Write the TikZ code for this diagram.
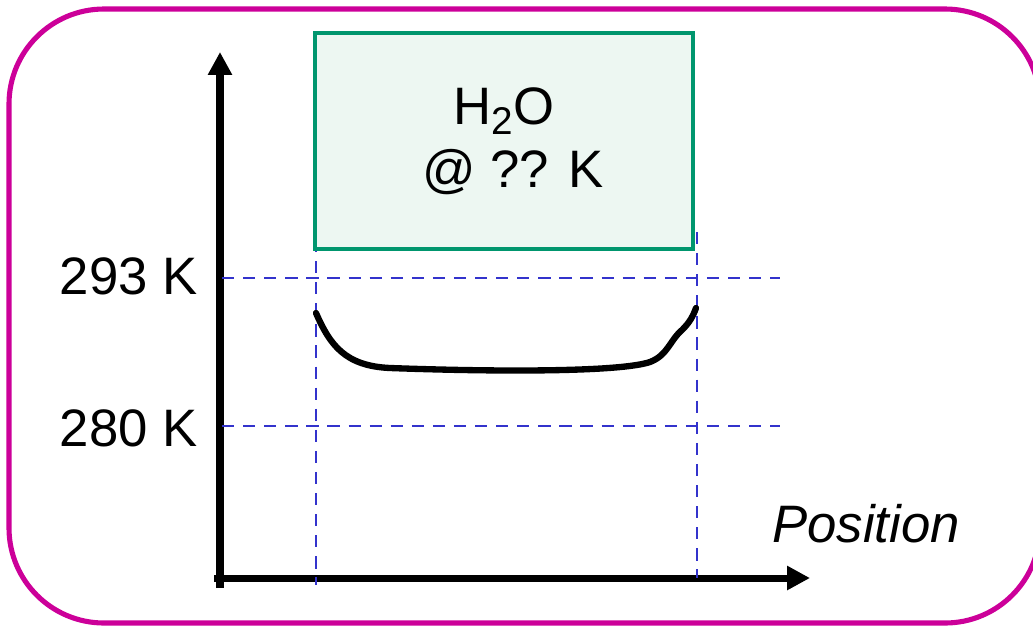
\documentclass[tikz,border=0pt]{standalone}
\usepackage{fontspec}
\setmainfont{Liberation Sans}
\usetikzlibrary{arrows.meta,positioning}
\definecolor{framepink}{RGB}{204,0,153}
\definecolor{boxgreen}{RGB}{0,150,110}
\definecolor{boxfill}{RGB}{237,247,242}
\definecolor{guideblue}{RGB}{51,51,204}

\begin{document}
\begin{tikzpicture}[x=0.02cm,y=-0.02cm,
      axis/.style={line width=4pt,-{Triangle[length=13pt,width=13pt]}},
      guide/.style={draw=guideblue,line width=1.5pt,dash pattern=on 7pt off 5pt},
      templabel/.style={font=\fontsize{30}{36}\selectfont,inner sep=0pt},
      water/.style={draw=boxgreen,fill=boxfill,line width=2.3pt,
                    minimum width=7.56cm,minimum height=4.32cm,align=center,
                    font=\fontsize{30}{36}\selectfont}]
    \useasboundingbox (0,0) rectangle (1033,626);
    \draw[framepink,line width=2.9pt,rounded corners=1.9cm] (9,9) rectangle (1040,623);
    % axes
    \coordinate (ybot) at (220,588);
    \coordinate (ytop) at (220,52);
    \coordinate (xbeg) at (214,578);
    \coordinate (xend) at (810,578);
    \draw[axis] (ybot) -- (ytop);
    \draw[axis] (xbeg) -- (xend);
    % guide lines
    \coordinate (hi1) at (222,278);  \coordinate (hi2) at (780,278);
    \coordinate (lo1) at (222,426);  \coordinate (lo2) at (780,426);
    \coordinate (vl1) at (316,240);  \coordinate (vl2) at (316,585);
    \coordinate (vr1) at (697,232);  \coordinate (vr2) at (697,578);
    \draw[guide] (hi1) -- (hi2);
    \draw[guide] (lo1) -- (lo2);
    \draw[guide] (vl1) -- (vl2);
    \draw[guide] (vr1) -- (vr2);
    % water box
    \node[water] (water) at (504,141) {H\raisebox{-6pt}{\fontsize{22}{26}\selectfont 2}O\\\hspace*{10pt}@ ?? K};
    \node[templabel,anchor=east] (t293) at (198,276) {293 K};
    \node[templabel,anchor=east] (t280) at (198,428) {280 K};
    \node[templabel,anchor=west,font=\fontsize{30}{36}\selectfont\itshape] (pos) at (772,524) {Position};
    % temperature profile
    \draw[line width=3.6pt,line cap=round]
      (316,313) .. controls (330,345) and (345,366) .. (390,368)
      .. controls (500,372) and (620,372) .. (650,362)
      .. controls (668,355) and (670,340) .. (682,330)
      .. controls (690,322) and (693,316) .. (696,308);
\end{tikzpicture}
\end{document}
